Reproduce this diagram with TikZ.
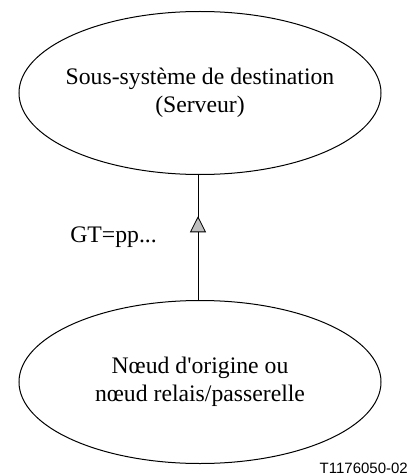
\documentclass[tikz,border=0pt]{standalone}
\usepackage{fontspec}
\setmainfont{Liberation Serif}
\setsansfont{Liberation Sans}
\usepackage{tikz}
\usetikzlibrary{shapes.geometric, positioning, arrows.meta, decorations.markings}
\definecolor{tipgrey}{rgb}{0.75,0.75,0.75}

\begin{document}
\begin{tikzpicture}[x = 1pt, y = 1pt,
		systeme/.style = {draw, ellipse, line width = 1pt, minimum width = 362pt, minimum height = 163pt, inner sep = 0pt},
		texte/.style = {align = center, inner sep = 0pt, font = \fontsize{23.7}{28}\selectfont},
		lien/.style = {line width = 0.8pt, postaction = {decorate}, decoration = {markings, mark = at position 0.67 with {\arrow{Triangle[width = 16pt, length = 16pt, fill = tipgrey, line width = 0.8pt]}}}}]
		\useasboundingbox (0,0) rectangle (411,-476);
		\node[systeme] (dest) at (200,-93) {};
		\node[texte] (desttxt) at (dest.center) {Sous-système de destination \\ (Serveur)};
		\node[systeme, below = 125pt of dest] (orig) {};
		\node[texte] (origtxt) at (orig.center) {Nœud d\textquotesingle origine ou \\ nœud relais/passerelle};
		\draw[lien] ([xshift = -2pt]orig.north) -- ([xshift = -2pt]dest.south) coordinate[pos = 0.5] (mid);
		\node[texte, anchor = east, left = 41pt of mid] (gt) {GT=pp...};
		\node[anchor = base east, inner sep = 0pt, font = \sffamily\fontsize{15}{18}\selectfont] (ref) at (408,-473) {T1176050-02};
	\end{tikzpicture}
\end{document}
